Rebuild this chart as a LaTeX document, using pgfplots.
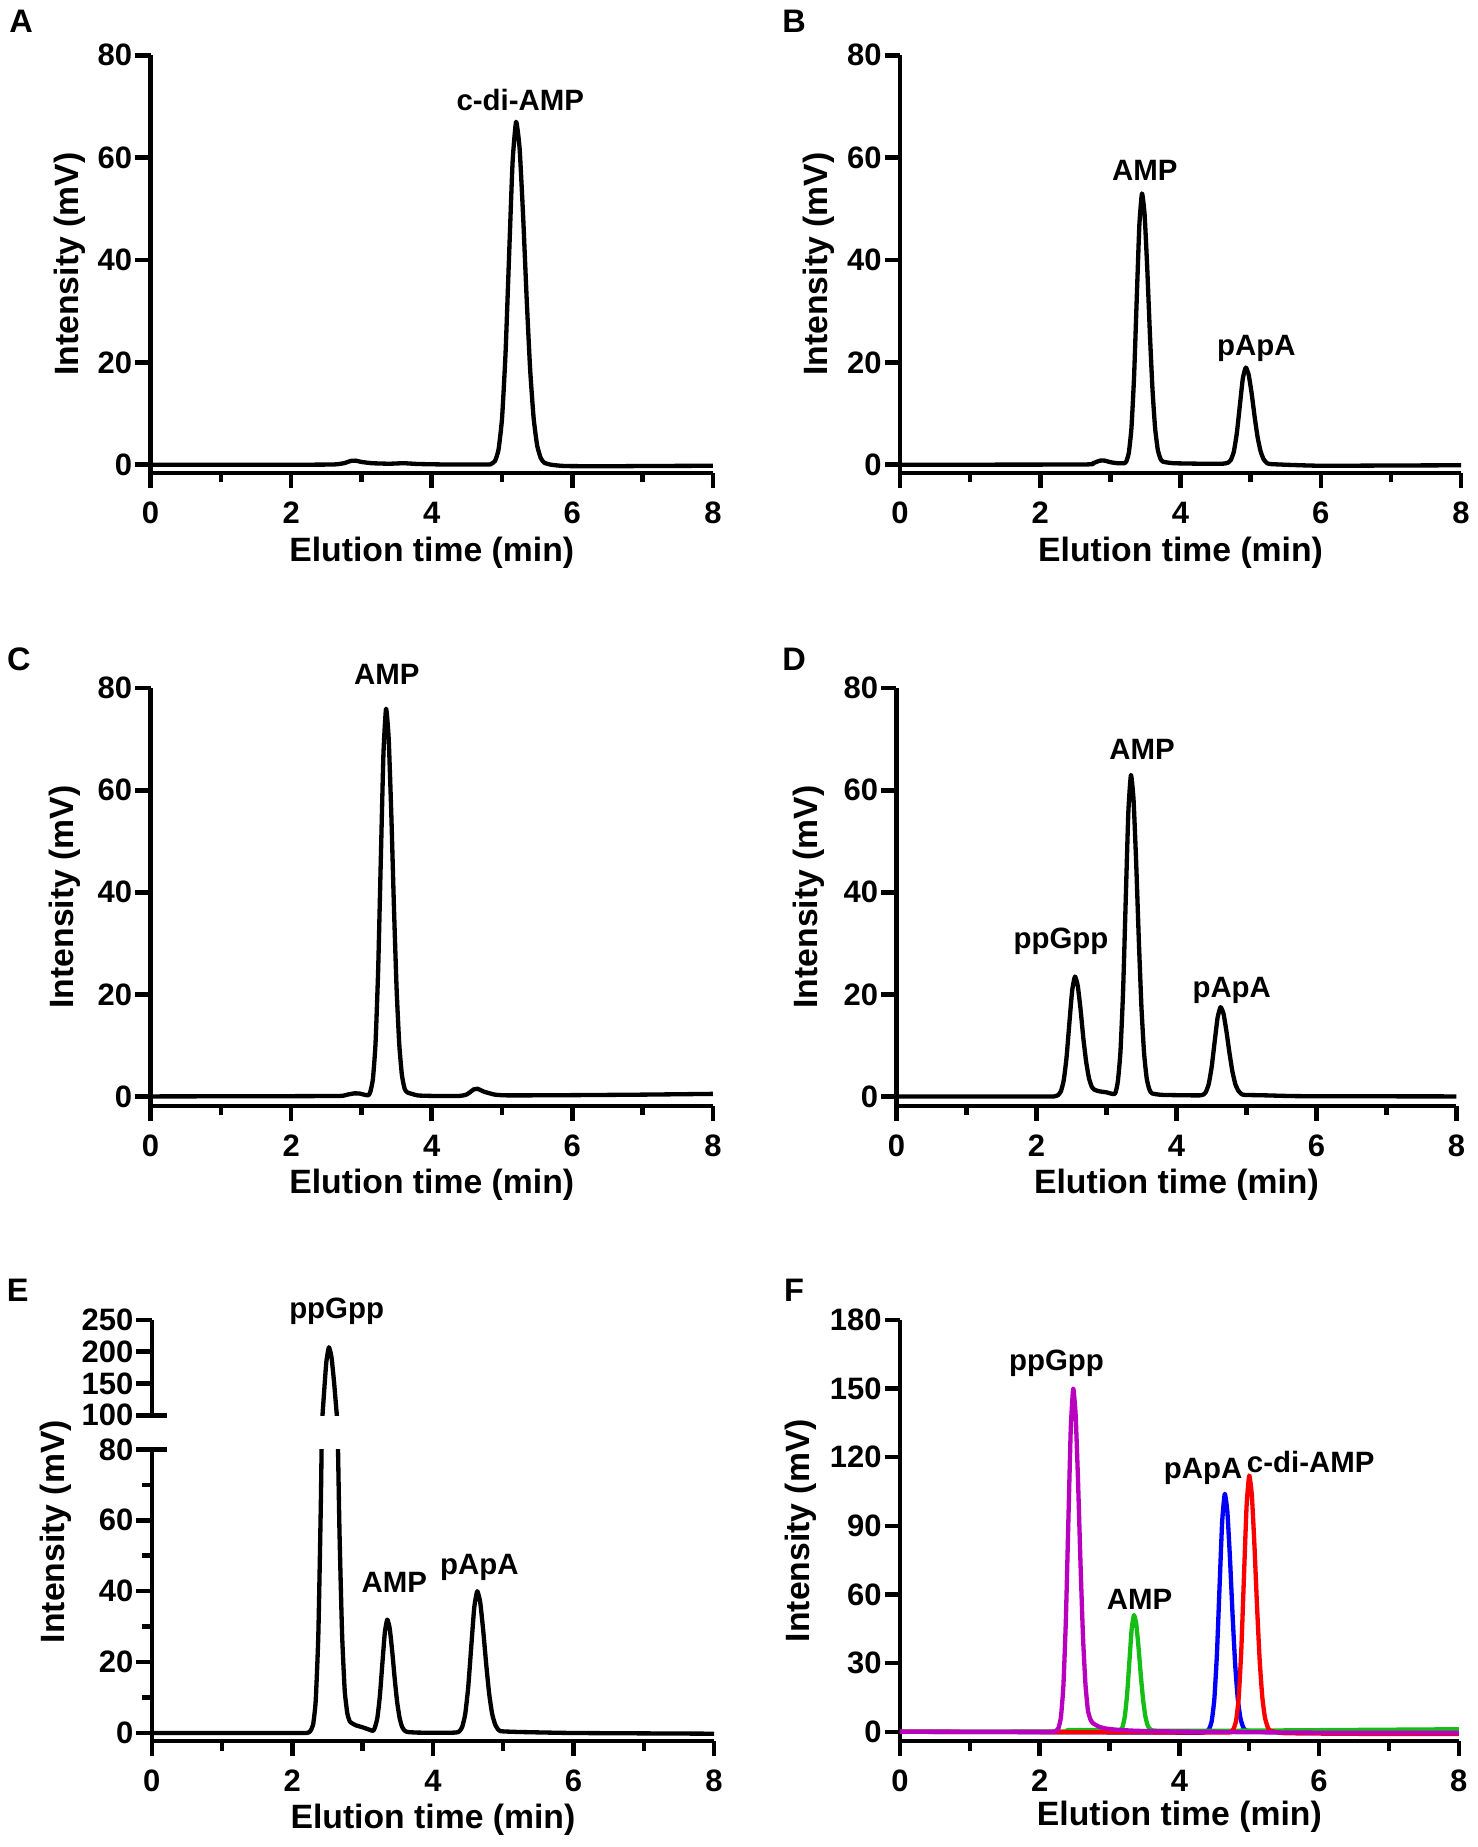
\documentclass[border=0pt]{standalone}
\usepackage{fontspec}
\setmainfont{Liberation Sans}
\usepackage{pgfplots}
\usepackage{pgfplotstable}
\pgfplotsset{compat=1.18}
\definecolor{fmag}{RGB}{185,0,190}
\definecolor{fgreen}{RGB}{20,190,20}
\definecolor{fblue}{RGB}{0,0,250}
\definecolor{fred}{RGB}{250,0,0}
\tikzset{pk/.style={font=\bfseries\fontsize{7.5}{9}\selectfont},
  lt/.style={font=\bfseries\fontsize{8.3}{9}\selectfont}}
\pgfplotsset{
  chrom/.style={
    scale only axis, axis lines=left, axis line style={-, line width=1.15pt},
    xmin=0, xmax=8, xtick={0,2,4,6,8}, minor xtick={1,3,5,7},
    tick align=outside, major tick length=3.9pt, minor tick length=2.4pt,
    every tick/.style={black, line width=1.15pt},
    tick label style={font=\bfseries\fontsize{7.9}{9}\selectfont},
    yticklabel style={inner sep=0.6pt},
    label style={font=\bfseries\fontsize{8.6}{10}\selectfont},
    /pgf/number format/assume math mode=true,
    xlabel={Elution time (min)}, ylabel={Intensity (mV)},
    clip mode=individual, anchor=south west,
  },
  trace/.style={line width=1.1pt, smooth, tension=0.3, line join=round},
}
\pgfplotstableread{
x y
0 0
2.0 0
2.2 0
2.25 0.4
2.295 2.3
2.3325 9.1
2.37 27.9
2.4075 67.3
2.445 125.6
2.4825 182.6
2.52 207
2.5575 191.1
2.595 150.3
2.6325 100.8
2.67 57.5
2.7075 28
2.745 12
2.7825 5.5
2.82 3.2
2.9 2.2
3.0 1.6
3.1 0.9
3.15 0.6
3.175 1.6
3.21 4.32
3.245 10.4
3.28 19.4
3.315 28.2
3.35 32
3.385 29.5
3.42 23.2
3.455 15.6
3.49 8.9
3.525 4.32
3.56 1.79
3.595 0.7
3.63 0.3
3.8 0.1
4.3 0.1
4.375 0.44
4.4175 1.76
4.46 5.4
4.5025 13.0
4.545 24.3
4.5875 35.3
4.63 40
4.6725 36.9
4.715 29.0
4.7575 19.5
4.80 11.1
4.8425 5.4
4.885 2.4
4.9275 1.0
4.97 0.5
5.2 0.3
6 0
8 -0.2
}\dataE
\begin{document}
\begin{tikzpicture}
\path[use as bounding box] (0,0) rectangle (376.8pt,-471pt);
\node[lt] at (5.4pt,-5.4pt) {A};
\node[lt] at (202.5pt,-5.4pt) {B};
\node[lt] at (4.8pt,-168pt) {C};
\node[lt] at (202.5pt,-168pt) {D};
\node[lt] at (4.5pt,-329.1pt) {E};
\node[lt] at (202.5pt,-329.1pt) {F};

% ---------- A ----------
\begin{axis}[chrom, at={(38.4pt,-120.6pt)}, width=143.4pt, height=106.5pt,
  ymin=-1.6, ymax=80, ytick={0,20,40,60,80},
  xlabel style={at={(axis description cs:0.5,-0.19)}, anchor=center},
  ylabel style={at={(axis description cs:-0.143,0.5)}, anchor=center}]
\addplot[trace, black] coordinates {(0,0)(1,0)(2,0)(2.6,0.05)(2.75,0.3)(2.85,0.75)(2.92,0.8)(3.0,0.55)(3.15,0.3)(3.4,0.2)(3.6,0.3)(3.8,0.15)(4.2,0.05)(4.8,0.05)(4.85,0.2)(4.90,0.74)(4.95,2.95)(5.00,9.05)(5.05,21.8)(5.10,40.7)(5.15,59.1)(5.20,67)(5.25,61.8)(5.30,48.6)(5.35,32.6)(5.40,18.6)(5.45,9.05)(5.50,3.75)(5.55,1.34)(5.60,0.40)(5.7,0)(5.9,-0.25)(6.5,-0.3)(7,-0.25)(8,-0.2)};
\node[pk] at (axis cs:5.26,71.2) {c-di-AMP};
\end{axis}

% ---------- B ----------
\begin{axis}[chrom, at={(229.5pt,-120.6pt)}, width=143.1pt, height=106.5pt,
  ymin=-1.6, ymax=80, ytick={0,20,40,60,80},
  xlabel style={at={(axis description cs:0.5,-0.19)}, anchor=center},
  ylabel style={at={(axis description cs:-0.144,0.5)}, anchor=center}]
\addplot[trace, black] coordinates {(0,0)(2.6,0.05)(2.75,0.3)(2.85,0.8)(2.92,0.8)(3.0,0.5)(3.1,0.3)(3.2,0.3)(3.225,0.58)(3.2625,2.33)(3.30,7.16)(3.3375,17.2)(3.375,32.2)(3.4125,46.7)(3.45,53)(3.4875,48.9)(3.525,38.5)(3.5625,25.8)(3.60,14.7)(3.6375,7.16)(3.675,2.97)(3.7125,1.2)(3.75,0.6)(3.9,0.3)(4.3,0.2)(4.6,0.2)(4.675,0.4)(4.7175,0.95)(4.76,2.57)(4.8025,6.18)(4.845,11.5)(4.8875,16.8)(4.93,19)(4.9725,17.5)(5.015,13.8)(5.0575,9.25)(5.10,5.28)(5.1425,2.57)(5.185,1.06)(5.2275,0.38)(5.27,0.15)(5.5,0)(6,-0.2)(7,-0.15)(8,-0.1)};
\node[pk] at (axis cs:3.49,57.5) {AMP};
\node[pk] at (axis cs:5.08,22.8) {pApA};
\end{axis}

% ---------- C ----------
\begin{axis}[chrom, at={(38.4pt,-282pt)}, width=143.4pt, height=106.5pt,
  ymin=-1.85, ymax=80, ytick={0,20,40,60,80},
  xlabel style={at={(axis description cs:0.5,-0.19)}, anchor=center},
  ylabel style={at={(axis description cs:-0.153,0.5)}, anchor=center}]
\addplot[trace, black] coordinates {(0,0)(2,0.05)(2.7,0.1)(2.8,0.35)(2.9,0.6)(2.98,0.55)(3.05,0.3)(3.1,0.25)(3.125,0.84)(3.1625,3.34)(3.20,10.3)(3.2375,24.7)(3.275,46.1)(3.3125,67.0)(3.35,76)(3.3875,70.1)(3.425,55.2)(3.4625,37.0)(3.50,21.1)(3.5375,10.3)(3.575,4.26)(3.6125,1.6)(3.65,0.8)(3.8,0.2)(4.0,0.1)(4.4,0.1)(4.5,0.4)(4.6,1.4)(4.65,1.5)(4.75,0.9)(4.9,0.35)(5.1,0.2)(6,0.25)(7,0.35)(8,0.5)};
\node[pk] at (axis cs:3.36,82.8) {AMP};
\end{axis}

% ---------- D ----------
\begin{axis}[chrom, at={(228.6pt,-282pt)}, width=142.8pt, height=106.5pt,
  ymin=-1.85, ymax=80, ytick={0,20,40,60,80},
  xlabel style={at={(axis description cs:0.5,-0.19)}, anchor=center},
  ylabel style={at={(axis description cs:-0.157,0.5)}, anchor=center}]
\addplot[trace, black] coordinates {(0,0)(2.0,0)(2.25,0)(2.28,0.1)(2.31,0.26)(2.35,1.03)(2.39,3.17)(2.43,7.64)(2.47,14.3)(2.51,20.7)(2.55,23.5)(2.59,21.7)(2.63,17.1)(2.67,11.4)(2.71,6.8)(2.75,3.6)(2.79,1.9)(2.83,1.3)(2.9,1.0)(3.0,0.8)(3.12,0.5)(3.1625,2.9)(3.20,8.7)(3.2375,20.5)(3.275,38.2)(3.3125,55.6)(3.35,63)(3.3875,58.1)(3.425,45.7)(3.4625,30.7)(3.50,17.5)(3.5375,8.51)(3.575,3.53)(3.6125,1.4)(3.65,0.6)(3.8,0.3)(4.3,0.2)(4.375,0.3)(4.4175,0.8)(4.46,2.36)(4.5025,5.69)(4.545,10.6)(4.5875,15.4)(4.63,17.5)(4.6725,16.2)(4.715,12.7)(4.7575,8.52)(4.80,4.87)(4.8425,2.36)(4.885,1.1)(4.9275,0.5)(4.97,0.3)(5.3,0.2)(5.8,0.05)(8,0)};
\node[pk] at (axis cs:2.35,30.4) {ppGpp};
\node[pk] at (axis cs:3.51,68) {AMP};
\node[pk] at (axis cs:4.79,20.7) {pApA};
\end{axis}

% ---------- E (upper) ----------
\begin{axis}[scale only axis, at={(38.7pt,-360.9pt)}, anchor=south west,
  width=143.4pt, height=24.3pt,
  axis x line=none, axis y line=left, axis line style={-, line width=1.15pt},
  xmin=0, xmax=8, ymin=100, ymax=250, ytick={100,150,200,250},
  tick align=outside, major tick length=3.9pt,
  every tick/.style={black, line width=1.15pt},
  extra y ticks={100}, extra y tick labels={}, extra y tick style={tick align=inside},
  tick label style={font=\bfseries\fontsize{7.9}{9}\selectfont},
  yticklabel style={inner sep=0.6pt},
  /pgf/number format/assume math mode=true, clip mode=individual]
\addplot[trace, black] table[x=x,y=y] {\dataE};
\node[pk] at (axis cs:2.63,263) {ppGpp};
\end{axis}

% ---------- E (lower) ----------
\begin{axis}[chrom, at={(38.7pt,-444pt)}, width=143.4pt, height=74.4pt,
  ymin=-2.3, ymax=80, ytick={0,20,40,60,80}, minor ytick={10,30,50,70},
  extra y ticks={80}, extra y tick labels={}, extra y tick style={tick align=inside},
  xlabel style={at={(axis description cs:0.5,-0.27)}, anchor=center},
  ylabel style={at={(axis description cs:-0.17,0.718)}, anchor=center}]
\addplot[trace, black] table[x=x,y=y] {\dataE};
\node[pk] at (axis cs:3.45,42.5) {AMP};
\node[pk] at (axis cs:4.66,46.8) {pApA};
\end{axis}

% ---------- F ----------
\begin{axis}[chrom, at={(229.5pt,-444pt)}, width=142.5pt, height=107.4pt,
  ymin=-4.1, ymax=180, ytick={0,30,60,90,120,150,180},
  xlabel style={at={(axis description cs:0.5,-0.18)}, anchor=center},
  ylabel style={at={(axis description cs:-0.177,0.5)}, anchor=center}]
\addplot[trace, fblue] coordinates {(0,0)(3.5,-0.3)(4.3,-0.4)(4.38,0)(4.425,1.14)(4.4625,4.58)(4.50,14.0)(4.5375,33.8)(4.575,63.1)(4.6125,91.7)(4.65,104)(4.6875,96.0)(4.725,75.5)(4.7625,50.6)(4.80,28.9)(4.8375,14.0)(4.875,5.82)(4.9125,2.08)(4.95,0.62)(5.1,0)(6,-0.2)(8,-0.3)};
\addplot[trace, fgreen] coordinates {(0,0)(2.3,0.1)(2.4,0.7)(2.8,0.8)(3.1,0.6)(3.155,0.7)(3.1875,2.24)(3.22,6.9)(3.2525,16.6)(3.285,31.0)(3.3175,45.0)(3.35,51)(3.3825,47.1)(3.415,37.0)(3.4475,24.8)(3.48,14.2)(3.5125,6.9)(3.545,2.86)(3.5775,1.2)(3.61,0.6)(3.8,0.4)(5,0.5)(6,0.7)(7,0.9)(8,1.1)};
\addplot[trace, fred] coordinates {(0,0)(4.5,-0.3)(4.73,0)(4.775,1.23)(4.8125,4.93)(4.85,15.1)(4.8875,36.4)(4.925,68.0)(4.9625,98.8)(5.0,112)(5.0375,103.4)(5.075,81.3)(5.1125,54.5)(5.15,31.1)(5.1875,15.1)(5.225,6.27)(5.2625,2.24)(5.30,0.5)(5.5,-0.6)(6.5,-0.9)(8,-1)};
\addplot[trace, fmag] coordinates {(0,0)(2.0,0)(2.2,0)(2.235,0.4)(2.27,1.65)(2.305,6.6)(2.34,20.3)(2.375,48.8)(2.41,91.1)(2.445,132.3)(2.48,150)(2.515,138.5)(2.55,108.9)(2.585,73.1)(2.62,41.7)(2.655,21)(2.69,9.5)(2.725,5.5)(2.76,3.8)(2.85,2.2)(2.95,1.4)(3.1,0.9)(3.4,0.4)(4,0.1)(5,-0.2)(6,-0.4)(8,-0.5)};
\node[pk] at (axis cs:2.24,161) {ppGpp};
\node[pk] at (axis cs:3.43,58) {AMP};
\node[pk] at (axis cs:4.34,114) {pApA};
\node[pk] at (axis cs:5.88,118) {c-di-AMP};
\end{axis}
\end{tikzpicture}
\end{document}
